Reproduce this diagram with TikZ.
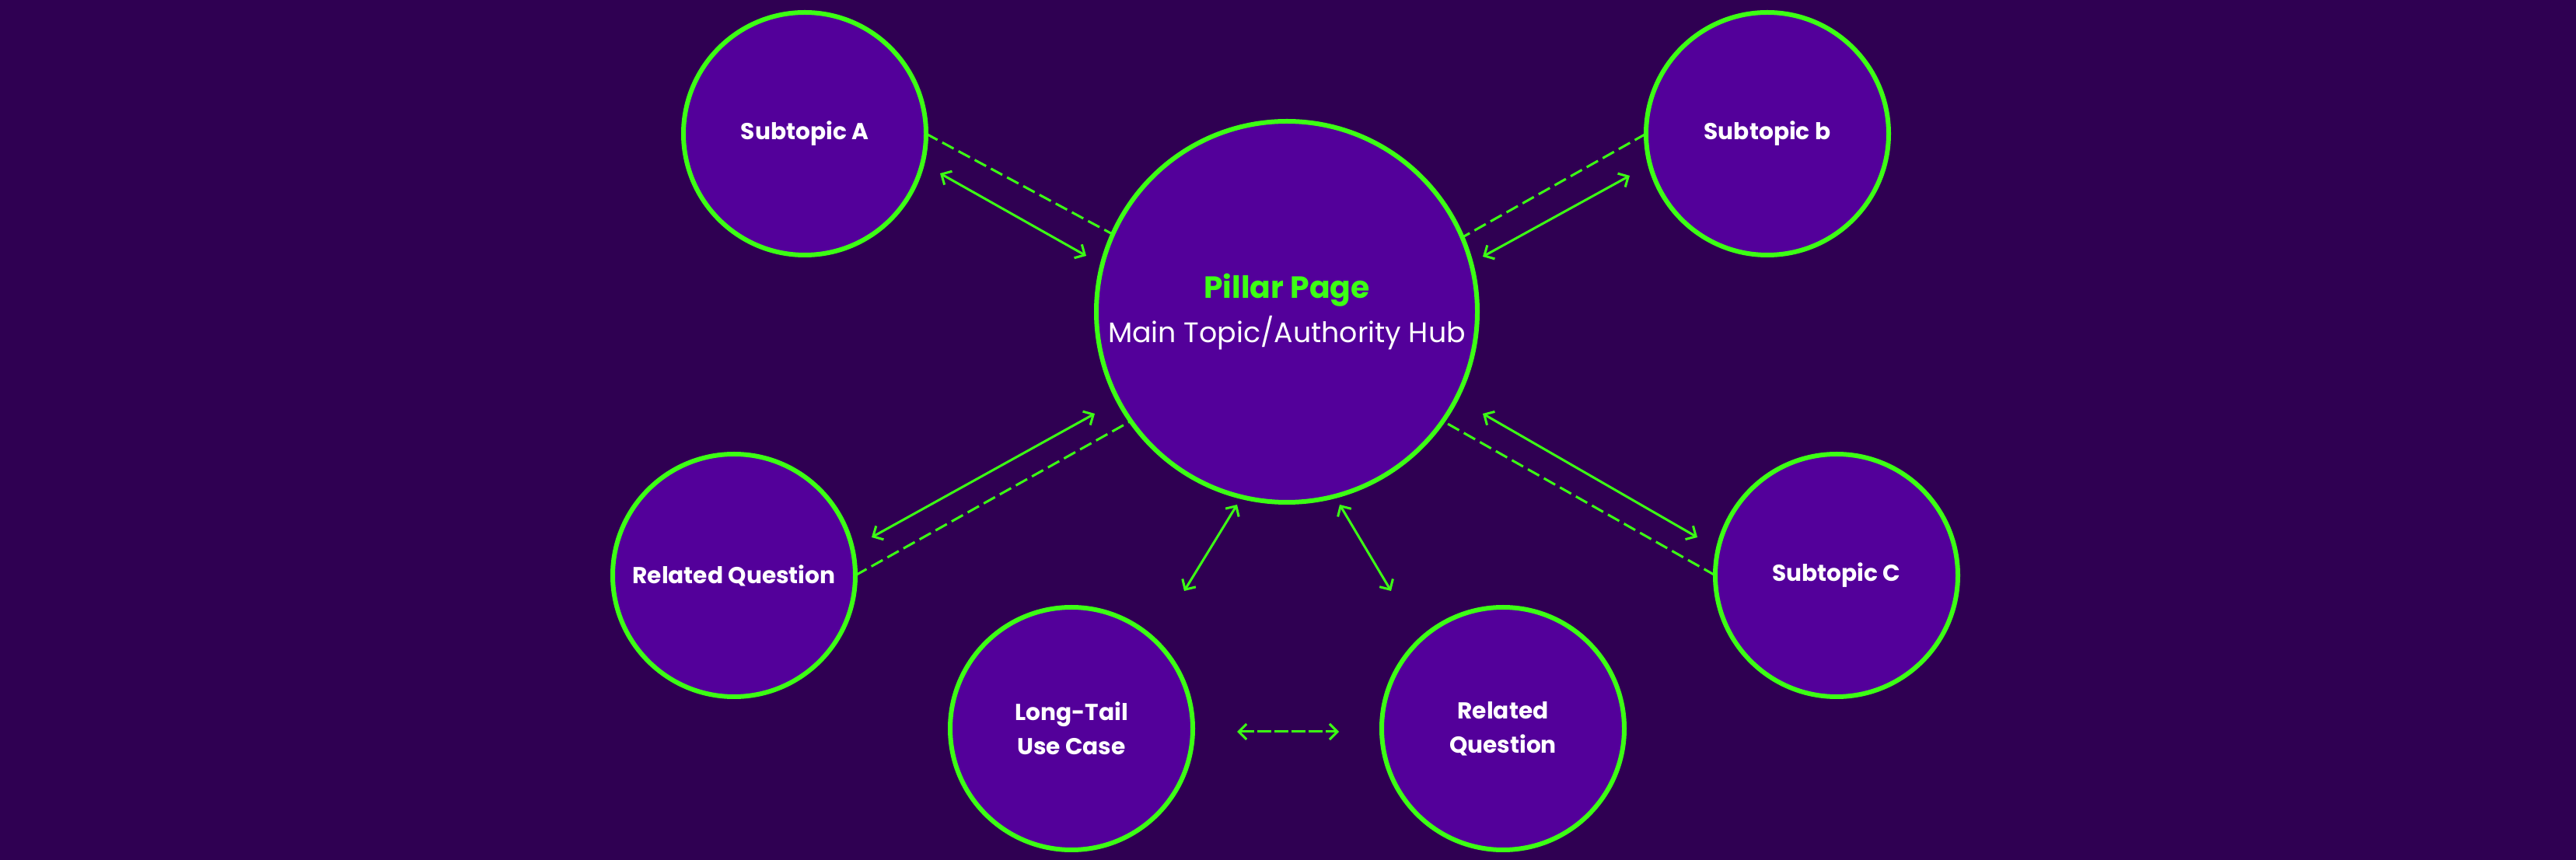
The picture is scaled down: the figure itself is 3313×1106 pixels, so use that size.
\documentclass[tikz,border=0pt]{standalone}
\usepackage{fontspec}
\setmainfont{Poppins}
\usetikzlibrary{arrows.meta}
\definecolor{bgc}{HTML}{2F0052}
\definecolor{fillc}{HTML}{53009A}
\definecolor{neon}{HTML}{3CFF14}
\begin{document}
\begin{tikzpicture}[x=0.3pt,y=-0.3pt,
  bubble/.style={circle,draw=neon,fill=fillc,line width=1.8pt,minimum size=93.6pt,inner sep=0pt,outer sep=0pt,
    text=white,align=center,font=\fontsize{8.9}{13.3}\selectfont\bfseries},
  hub/.style={circle,draw=neon,fill=fillc,line width=1.8pt,minimum size=147pt,inner sep=0pt,outer sep=0pt,
    text=white,align=center},
  link/.style={draw=neon,line width=0.9pt,{Straight Barb[length=3pt,width=6pt]}-{Straight Barb[length=3pt,width=6pt]}},
  dlink/.style={draw=neon,line width=0.9pt,dash pattern=on 5pt off 2.1pt}
]
\fill[bgc] (0,0) rectangle (3313,1106);
\useasboundingbox (0,0) rectangle (3313,1106);

\node[hub] (M) at (1655,401) {{\fontsize{11.8}{16}\selectfont\bfseries\color{neon}Pillar Page}\\[2.5pt]{\fontsize{10.9}{16}\selectfont Main Topic/Authority Hub}};
\node[bubble] (A) at (1035,172) {Subtopic A};
\node[bubble] (B) at (2273,172) {Subtopic b};
\node[bubble] (RL) at (944,740) {Related Question};
\node[bubble] (C) at (2362,740) {Subtopic C};
\node[bubble] (LT) at (1378,937) {Long-Tail\\Use Case};
\node[bubble] (RB) at (1933,937) {Related\\Question};

% dashed connectors
\draw[dlink] (A.east) -- (M.156.6);
\draw[dlink] (B.west) -- (M.23.2);
\draw[dlink] (RL.east) -- (M.215.7);
\draw[dlink] (C.west) -- (M.-35.9);

% arrow end coordinates
\coordinate (s1a) at (1209,223); \coordinate (s1b) at (1397,329);
\coordinate (s2a) at (2096,226); \coordinate (s2b) at (1907,330);
\coordinate (s3a) at (1121,691); \coordinate (s3b) at (1408,532);
\coordinate (s4a) at (2183,691); \coordinate (s4b) at (1907,532);
\coordinate (s5a) at (1591,649); \coordinate (s5b) at (1523,760);
\coordinate (s6a) at (1723,649); \coordinate (s6b) at (1789,760);
\coordinate (h1) at (1591,941); \coordinate (h2) at (1722,941);

\draw[link] (s1a) -- (s1b);
\draw[link] (s2a) -- (s2b);
\draw[link] (s3a) -- (s3b);
\draw[link] (s4a) -- (s4b);
\draw[link] (s5a) -- (s5b);
\draw[link] (s6a) -- (s6b);
\draw[link,dash pattern=on 5.4pt off 1.2pt] (h1) -- (h2);
\end{tikzpicture}
\end{document}
